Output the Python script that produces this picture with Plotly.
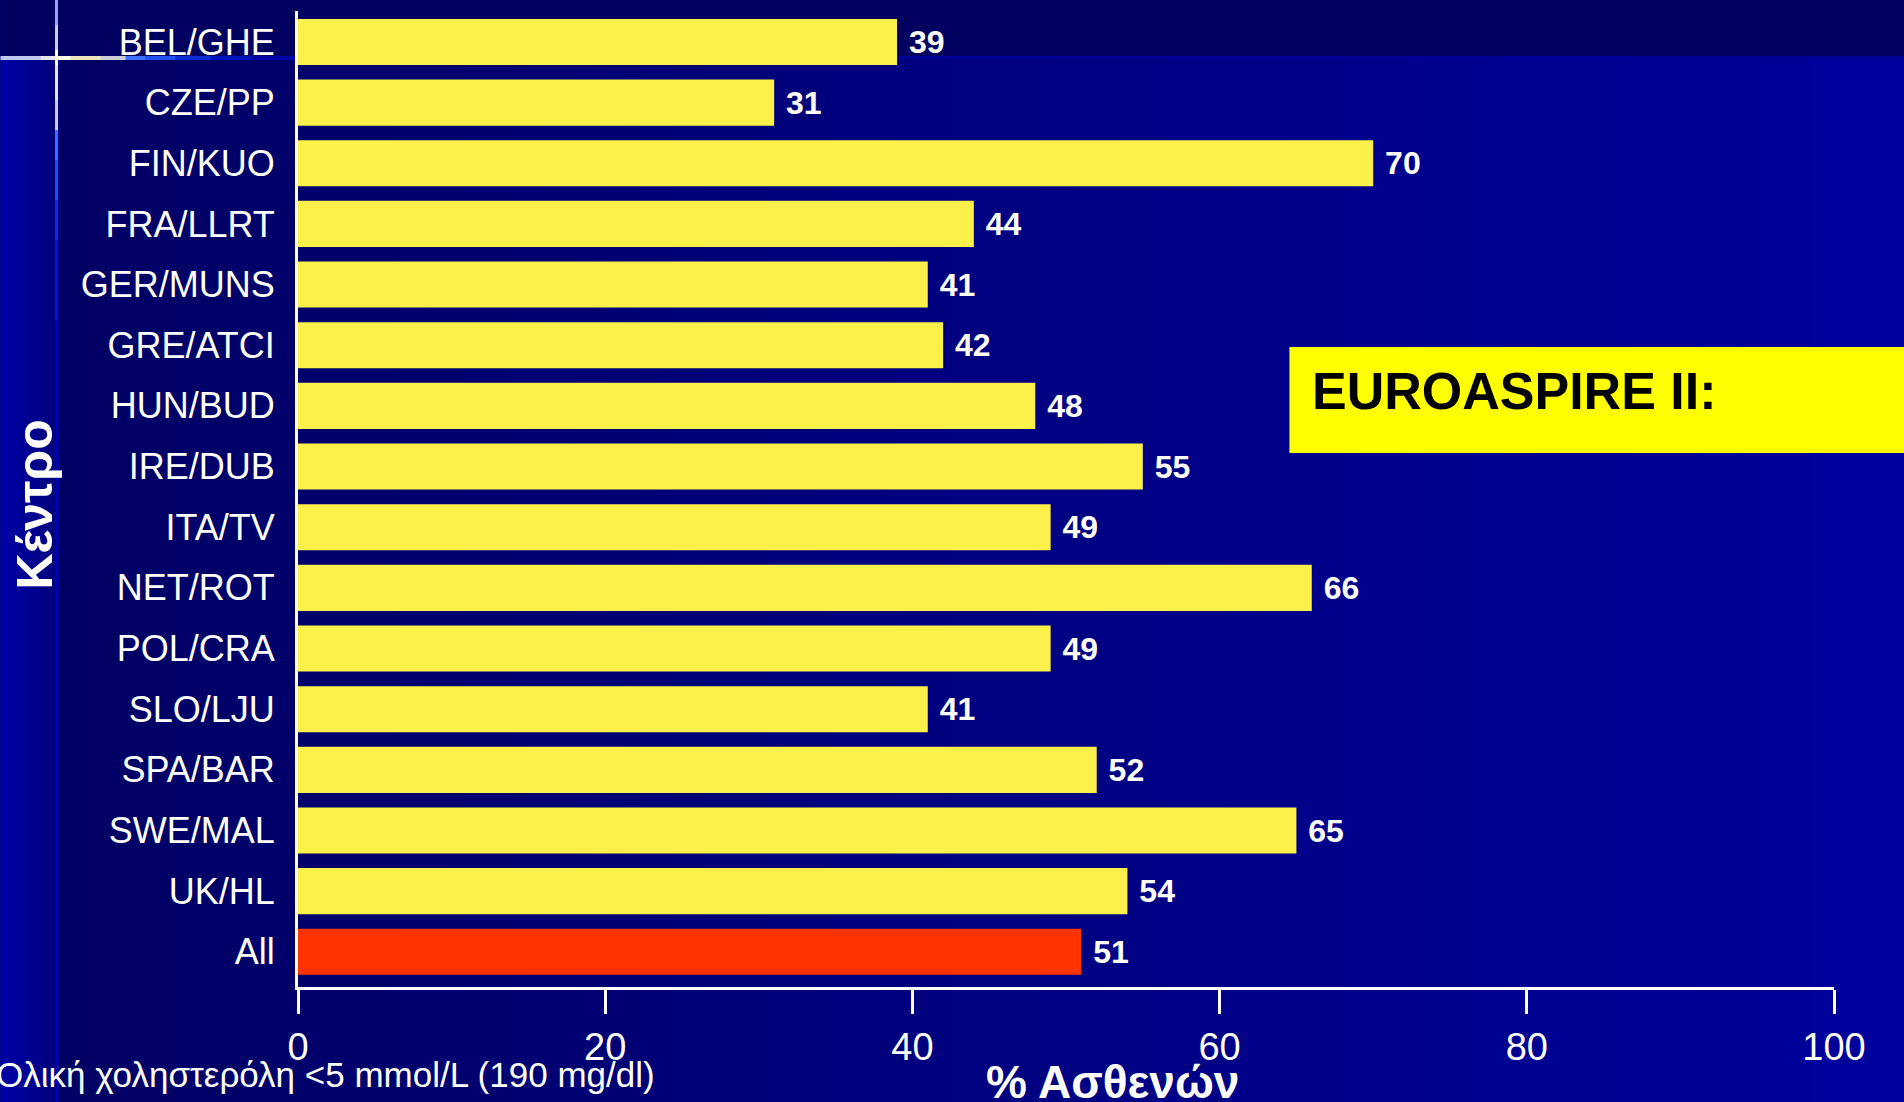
import plotly.graph_objects as go

# ---- data ----
centres = ["BEL/GHE", "CZE/PP", "FIN/KUO", "FRA/LLRT", "GER/MUNS", "GRE/ATCI",
           "HUN/BUD", "IRE/DUB", "ITA/TV", "NET/ROT", "POL/CRA", "SLO/LJU",
           "SPA/BAR", "SWE/MAL", "UK/HL", "All"]
pct_patients = [39, 31, 70, 44, 41, 42, 48, 55, 49, 66, 49, 41, 52, 65, 54, 51]
x_ticks = [0, 20, 40, 60, 80, 100]

YELLOW = "#FCF04B"
RED = "#FF3300"
bar_colors = [RED if c == "All" else YELLOW for c in centres]

FONT = "Liberation Sans, Arial, Helvetica, sans-serif"
W, H = 1904, 1102
X0, X1 = 297.5, 1833.6      # plot area in pixels
Y0, Y1 = 11, 987

def px(x):
    return (x - X0) / (X1 - X0)

def py(y):
    return (Y1 - y) / (Y1 - Y0)

fig = go.Figure()
fig.add_trace(go.Bar(
    y=centres, x=pct_patients, orientation="h",
    marker=dict(color=bar_colors, line=dict(width=0)),
    width=0.76,
    texttemplate="\u00a0%{x}", textposition="outside",
    textfont=dict(family=FONT, size=32, color="white", weight="bold"),
    constraintext="none", cliponaxis=False,
    hoverinfo="skip",
))

shapes = []

def rect(x0, y0, x1, y1, color):
    shapes.append(dict(type="rect", xref="paper", yref="paper", layer="below",
                       x0=px(x0), x1=px(x1), y0=py(y1), y1=py(y0),
                       fillcolor=color, line=dict(width=0)))

def mix(c0, c1, t):
    return "rgb(%d,%d,%d)" % tuple(round(a + (b - a) * t) for a, b in zip(c0, c1))

# main background gradient (left dark -> right brighter)
n = 60
gx0, gx1 = 57, W
for i in range(n):
    a = gx0 + (gx1 - gx0) * i / n
    b = gx0 + (gx1 - gx0) * (i + 1) / n + 1
    rect(a, 57, b, H, mix((0, 0, 100), (0, 0, 156), i / (n - 1)))
# top dark band
rect(0, 0, W, 57, "rgb(0,0,96)")
# left strip
m = 10
for i in range(m):
    a = 57 * i / m
    b = 57 * (i + 1) / m + 1
    rect(a, 57, b, H, mix((0, 0, 165), (0, 0, 125), i / (m - 1)))
# faint boundary lines
rect(0, 56, W, 59, "rgb(0,0,150)")
rect(55, 57, 58, H, "rgb(0,0,185)")

# light cross: horizontal part
hseg = [(0, 40, (190, 200, 240)), (40, 55, (230, 230, 235)), (55, 70, (255, 255, 225)),
        (70, 100, (235, 232, 190)), (100, 125, (205, 205, 215)), (125, 145, (60, 110, 255)),
        (145, 175, (30, 80, 245)), (175, 210, (10, 45, 215)), (210, 250, (0, 20, 190)),
        (250, 297, (0, 5, 165))]
for a, b, c in hseg:
    rect(a, 56, b + 0.5, 60, "rgb(%d,%d,%d)" % c)
# vertical part
vseg = [(0, 25, (150, 160, 245)), (25, 50, (200, 205, 240)), (50, 65, (255, 255, 225)),
        (65, 100, (235, 232, 200)), (100, 130, (205, 205, 225)), (130, 160, (60, 110, 255)),
        (160, 200, (30, 80, 240)), (200, 240, (10, 45, 215)), (240, 320, (0, 25, 200))]
for a, b, c in vseg:
    rect(54.5, a, 57.5, b + 0.5, "rgb(%d,%d,%d)" % c)

# EUROASPIRE box
rect(1289, 347, W + 5, 453, "#FFFF00")

annotations = [
    dict(text="EUROASPIRE II:", xref="paper", yref="paper", x=px(1310), y=py(391),
         xanchor="left", yanchor="middle", showarrow=False,
         font=dict(family=FONT, size=52, color="black", weight="bold")),
    dict(text="Κέντρο", xref="paper", yref="paper", x=px(34), y=py(505),
         xanchor="center", yanchor="middle", showarrow=False, textangle=-90,
         font=dict(family=FONT, size=50, color="white", weight="bold")),
    dict(text="% Ασθενών", xref="paper", yref="paper", x=px(1112), y=py(1082),
         xanchor="center", yanchor="middle", showarrow=False,
         font=dict(family=FONT, size=46, color="white", weight="bold")),
    dict(text="Ολική χοληστερόλη <5 mmol/L (190 mg/dl)", xref="paper", yref="paper",
         x=px(657), y=py(1074), xanchor="right", yanchor="middle", showarrow=False,
         font=dict(family=FONT, size=35, color="white")),
]

fig.update_layout(
    width=W, height=H, autosize=False,
    margin=dict(l=X0, r=W - X1, t=Y0, b=H - Y1, pad=0),
    paper_bgcolor="rgb(0,0,110)", plot_bgcolor="rgba(0,0,0,0)",
    showlegend=False, bargap=0.24,
    shapes=shapes, annotations=annotations,
    xaxis=dict(range=[0, 100], tickvals=x_ticks, ticktext=[str(v) for v in x_ticks],
               showgrid=False, zeroline=False, showline=True, linecolor="white",
               linewidth=3, ticks="outside", ticklen=24, tickwidth=3, tickcolor="white",
               tickfont=dict(family=FONT, size=38, color="white"), automargin=False,
               fixedrange=True),
    yaxis=dict(type="category", categoryorder="array", categoryarray=centres,
               range=[15.58, -0.51], showgrid=False, zeroline=False, showline=True,
               linecolor="white", linewidth=3, ticks="", ticklabelstandoff=13,
               tickfont=dict(family=FONT, size=36, color="white"), automargin=False,
               fixedrange=True),
)

fig.write_html("out.html", config={"displayModeBar": False})
